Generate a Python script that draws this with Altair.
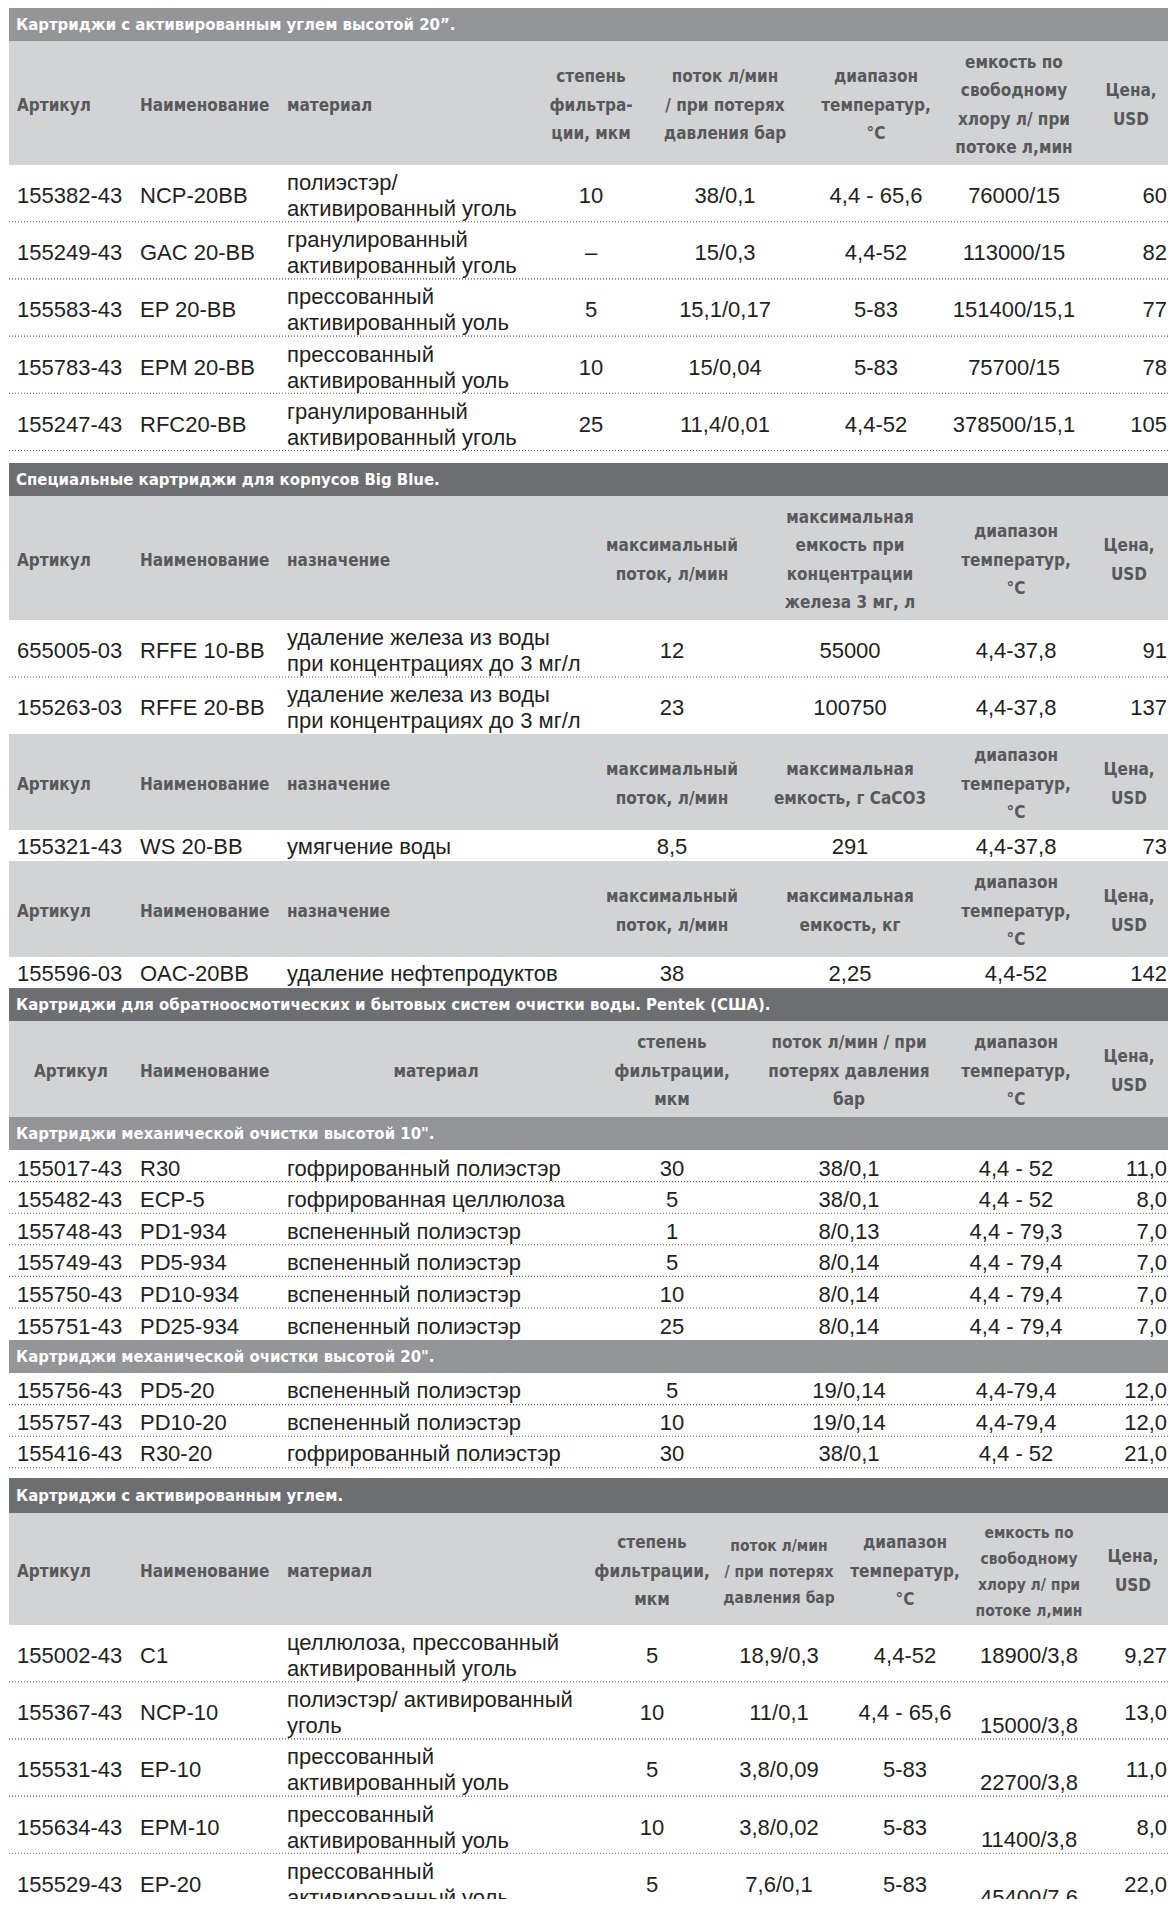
import altair as alt
import pandas as pd

# ------------------------------------------------------------------ data
S1_TITLE = "Картриджи с активированным углем высотой 20”."
S1_HEAD = ["Артикул", "Наименование", "материал",
           ["степень", "фильтра-", "ции, мкм"],
           ["поток л/мин", "/ при потерях", "давления бар"],
           ["диапазон", "температур,", "°C"],
           ["емкость по", "свободному", "хлору л/ при", "потоке л,мин"],
           ["Цена,", "USD"]]
S1_ART = ["155382-43", "155249-43", "155583-43", "155783-43", "155247-43"]
S1_NAME = ["NCP-20BB", "GAC 20-BB", "EP 20-BB", "EPM 20-BB", "RFC20-BB"]
S1_MAT = [["полиэстэр/", "активированный уголь"],
          ["гранулированный", "активированный уголь"],
          ["прессованный", "активированный уоль"],
          ["прессованный", "активированный уоль"],
          ["гранулированный", "активированный уголь"]]
S1_FILT = ["10", "–", "5", "10", "25"]
S1_FLOW = ["38/0,1", "15/0,3", "15,1/0,17", "15/0,04", "11,4/0,01"]
S1_TEMP = ["4,4 - 65,6", "4,4-52", "5-83", "5-83", "4,4-52"]
S1_CAP = ["76000/15", "113000/15", "151400/15,1", "75700/15", "378500/15,1"]
S1_PRICE = ["60", "82", "77", "78", "105"]

S2_TITLE = "Специальные картриджи для корпусов Big Blue."
S2_HEAD = ["Артикул", "Наименование", "назначение",
           ["максимальный", "поток, л/мин"],
           ["максимальная", "емкость при", "концентрации", "железа 3 мг, л"],
           ["диапазон", "температур,", "°C"],
           ["Цена,", "USD"]]
S2_ART = ["655005-03", "155263-03"]
S2_NAME = ["RFFE 10-BB", "RFFE 20-BB"]
S2_MAT = [["удаление железа из воды", "при концентрациях до 3 мг/л"],
          ["удаление железа из воды", "при концентрациях до 3 мг/л"]]
S2_FLOW = ["12", "23"]
S2_CAP = ["55000", "100750"]
S2_TEMP = ["4,4-37,8", "4,4-37,8"]
S2_PRICE = ["91", "137"]

S2B_HEAD = ["Артикул", "Наименование", "назначение",
            ["максимальный", "поток, л/мин"],
            ["максимальная", "емкость, г CaCO3"],
            ["диапазон", "температур,", "°C"],
            ["Цена,", "USD"]]
S2B_ROW = ["155321-43", "WS 20-BB", "умягчение воды", "8,5", "291", "4,4-37,8", "73"]

S2C_HEAD = ["Артикул", "Наименование", "назначение",
            ["максимальный", "поток, л/мин"],
            ["максимальная", "емкость, кг"],
            ["диапазон", "температур,", "°C"],
            ["Цена,", "USD"]]
S2C_ROW = ["155596-03", "OAC-20BB", "удаление нефтепродуктов", "38", "2,25", "4,4-52", "142"]

S3_TITLE = "Картриджи  для обратноосмотических и бытовых систем очистки воды. Pentek (США)."
S3_HEAD = ["Артикул", "Наименование", "материал",
           ["степень", "фильтрации,", "мкм"],
           ["поток л/мин / при", "потерях давления", "бар"],
           ["диапазон", "температур,", "°C"],
           ["Цена,", "USD"]]
S3A_TITLE = "Картриджи механической очистки высотой 10\"."
S3A_ART = ["155017-43", "155482-43", "155748-43", "155749-43", "155750-43", "155751-43"]
S3A_NAME = ["R30", "ECP-5", "PD1-934", "PD5-934", "PD10-934", "PD25-934"]
S3A_MAT = ["гофрированный полиэстэр", "гофрированная целлюлоза", "вспененный полиэстэр",
           "вспененный полиэстэр", "вспененный полиэстэр", "вспененный полиэстэр"]
S3A_FILT = ["30", "5", "1", "5", "10", "25"]
S3A_FLOW = ["38/0,1", "38/0,1", "8/0,13", "8/0,14", "8/0,14", "8/0,14"]
S3A_TEMP = ["4,4 - 52", "4,4 - 52", "4,4 - 79,3", "4,4 - 79,4", "4,4 - 79,4", "4,4 - 79,4"]
S3A_PRICE = ["11,0", "8,0", "7,0", "7,0", "7,0", "7,0"]

S3B_TITLE = "Картриджи механической очистки высотой 20\"."
S3B_ART = ["155756-43", "155757-43", "155416-43"]
S3B_NAME = ["PD5-20", "PD10-20", "R30-20"]
S3B_MAT = ["вспененный полиэстэр", "вспененный полиэстэр", "гофрированный полиэстэр"]
S3B_FILT = ["5", "10", "30"]
S3B_FLOW = ["19/0,14", "19/0,14", "38/0,1"]
S3B_TEMP = ["4,4-79,4", "4,4-79,4", "4,4 - 52"]
S3B_PRICE = ["12,0", "12,0", "21,0"]

S4_TITLE = "Картриджи с активированным углем."
S4_HEAD = ["Артикул", "Наименование", "материал",
           ["степень", "фильтрации,", "мкм"],
           ["поток л/мин", "/ при потерях", "давления бар"],
           ["диапазон", "температур,", "°C"],
           ["емкость по", "свободному", "хлору л/ при", "потоке л,мин"],
           ["Цена,", "USD"]]
S4_ART = ["155002-43", "155367-43", "155531-43", "155634-43", "155529-43"]
S4_NAME = ["C1", "NCP-10", "EP-10", "EPM-10", "EP-20"]
S4_MAT = [["целлюлоза, прессованный", "активированный уголь"],
          ["полиэстэр/ активированный", "уголь"],
          ["прессованный", "активированный уоль"],
          ["прессованный", "активированный уоль"],
          ["прессованный", "активированный уоль"]]
S4_FILT = ["5", "10", "5", "10", "5"]
S4_FLOW = ["18,9/0,3", "11/0,1", "3,8/0,09", "3,8/0,02", "7,6/0,1"]
S4_TEMP = ["4,4-52", "4,4 - 65,6", "5-83", "5-83", "5-83"]
S4_CAP = ["18900/3,8", "15000/3,8", "22700/3,8", "11400/3,8", "45400/7,6"]
S4_PRICE = ["9,27", "13,0", "11,0", "8,0", "22,0"]

# ------------------------------------------------------------------ layout
W, H = 1160, 1891          # page is 1176 wide with an 8px margin each side
X0, X1 = 9, 8 + W
X_ART, X_NAME, X_MAT, X_PR = 17, 140, 287, 1167
DARK, MID, LIGHT = "#6d6e71", "#939598", "#d1d3d4"
BODY_FONT = "Liberation Sans, Arial, Helvetica, sans-serif"
HEAD_FONT = "DejaVu Sans Condensed, DejaVu Sans, sans-serif"
HEAD_SIZE, HEAD_SMALL, TITLE_SIZE = 17, 15.5, 16.6

texts = []   # x, y, t, k
bars = []    # x, x2, y, y2, fill
rules = []   # x, x2, y


def add(k, x, y, t):
    texts.append(dict(x=x, y=y, t=t, k=k))


def bar(y0, y1, fill, title=None):
    bars.append(dict(x=X0, x2=X1, y=y0, y2=y1, fill=fill))
    if title:
        add("tt", 16, (y0 + y1) / 2 + 0.5, title)


def header(labels, spec, y0, y1):
    bar(y0, y1, LIGHT)
    cy = (y0 + y1) / 2 + 2.5
    for lab, (k, x) in zip(labels, spec):
        lines = lab if isinstance(lab, list) else [lab]
        lh = 26 if k == "hs" else 28.5
        n = len(lines)
        for i, ln in enumerate(lines):
            add(k, x, cy + (i - (n - 1) / 2) * lh, ln)


def dots(y):
    rules.append(dict(x=X0, x2=X1, y=y))


def row(cy, art, name, mat, cols, shifts=None):
    add("bl", X_ART, cy + 1, art)
    add("bl", X_NAME, cy + 1, name)
    if isinstance(mat, list):
        add("bl", X_MAT, cy - 12, mat[0])
        add("bl", X_MAT, cy + 14, mat[1])
    else:
        add("bl", X_MAT, cy + 1, mat)
    for j, (v, x, k) in enumerate(cols):
        dy = shifts[j] if shifts else 0
        add(k, x, cy + 1 + dy, v)


# section 1
bar(7, 41, MID, S1_TITLE)
header(S1_HEAD, [("hl", X_ART), ("hl", X_NAME), ("hl", X_MAT), ("hc", 591), ("hc", 725),
                 ("hc", 876), ("hc", 1014), ("hc", 1131)], 41, 165)
for i in range(5):
    row(165 + 30 + 57.2 * i, S1_ART[i], S1_NAME[i], S1_MAT[i],
        [(S1_FILT[i], 591, "bc"), (S1_FLOW[i], 725, "bc"), (S1_TEMP[i], 876, "bc"),
         (S1_CAP[i], 1014, "bc"), (S1_PRICE[i], X_PR, "br")])
    dots(165 + 57.2 * (i + 1) - 0.5)

# section 2
S2_SPEC = [("hl", X_ART), ("hl", X_NAME), ("hl", X_MAT), ("hc", 672), ("hc", 850),
           ("hc", 1016), ("hc", 1129)]
bar(463, 496, DARK, S2_TITLE)
header(S2_HEAD, S2_SPEC, 496, 620)
for i in range(2):
    row(620 + 29.5 + 57 * i, S2_ART[i], S2_NAME[i], S2_MAT[i],
        [(S2_FLOW[i], 672, "bc"), (S2_CAP[i], 850, "bc"), (S2_TEMP[i], 1016, "bc"),
         (S2_PRICE[i], X_PR, "br")])
dots(677)
header(S2B_HEAD, S2_SPEC, 734, 830)
row(846, S2B_ROW[0], S2B_ROW[1], S2B_ROW[2],
    [(S2B_ROW[3], 672, "bc"), (S2B_ROW[4], 850, "bc"), (S2B_ROW[5], 1016, "bc"),
     (S2B_ROW[6], X_PR, "br")])
header(S2C_HEAD, S2_SPEC, 861, 957)
row(973, S2C_ROW[0], S2C_ROW[1], S2C_ROW[2],
    [(S2C_ROW[3], 672, "bc"), (S2C_ROW[4], 850, "bc"), (S2C_ROW[5], 1016, "bc"),
     (S2C_ROW[6], X_PR, "br")])

# section 3
bar(988, 1021, DARK, S3_TITLE)
header(S3_HEAD, [("hc", 71), ("hl", X_NAME), ("hc", 436), ("hc", 672), ("hc", 849),
                 ("hc", 1016), ("hc", 1129)], 1021, 1117)
bar(1117, 1150, MID, S3A_TITLE)
for i in range(6):
    row(1150 + 17.5 + 31.6 * i, S3A_ART[i], S3A_NAME[i], S3A_MAT[i],
        [(S3A_FILT[i], 672, "bc"), (S3A_FLOW[i], 849, "bc"), (S3A_TEMP[i], 1016, "bc"),
         (S3A_PRICE[i], X_PR, "br")])
    if i < 5:
        dots(1150 + 31.6 * (i + 1))
bar(1340, 1373, MID, S3B_TITLE)
for i in range(3):
    row(1373 + 17 + 31.6 * i, S3B_ART[i], S3B_NAME[i], S3B_MAT[i],
        [(S3B_FILT[i], 672, "bc"), (S3B_FLOW[i], 849, "bc"), (S3B_TEMP[i], 1016, "bc"),
         (S3B_PRICE[i], X_PR, "br")])
    dots(1373 + 31.6 * (i + 1))

# section 4
bar(1478, 1513, DARK, S4_TITLE)
header(S4_HEAD, [("hl", X_ART), ("hl", X_NAME), ("hl", X_MAT), ("hc", 652), ("hs", 779),
                 ("hc", 905), ("hs", 1029), ("hc", 1133)], 1513, 1625)
CAP_SHIFT = [0, 12.7, 12.7, 12.7, 12.7]
for i in range(5):
    row(1625 + 30 + 57.2 * i, S4_ART[i], S4_NAME[i], S4_MAT[i],
        [(S4_FILT[i], 652, "bc"), (S4_FLOW[i], 779, "bc"), (S4_TEMP[i], 905, "bc"),
         (S4_CAP[i], 1029, "bc"), (S4_PRICE[i], X_PR, "br")],
        shifts=[0, 0, 0, CAP_SHIFT[i], 0])
    if i < 4:
        dots(1625 + 57.2 * (i + 1) - 0.5)

# ------------------------------------------------------------------ chart
xs = alt.Scale(domain=[8, 8 + W], range=[0, W], zero=False, nice=False, padding=0)
ys = alt.Scale(domain=[8, 8 + H], range=[0, H], zero=False, nice=False, padding=0)
tdf = pd.DataFrame(texts)

rect_layer = alt.Chart(pd.DataFrame(bars)).mark_rect().encode(
    x=alt.X("x:Q", scale=xs, axis=None), x2="x2:Q",
    y=alt.Y("y:Q", scale=ys, axis=None), y2="y2:Q",
    color=alt.Color("fill:N", scale=None))

rule_layer = alt.Chart(pd.DataFrame(rules)).mark_rule(
    color="#58595b", strokeWidth=1.1, strokeDash=[1, 2]).encode(
    x=alt.X("x:Q", scale=xs, axis=None), x2="x2:Q",
    y=alt.Y("y:Q", scale=ys, axis=None))

STYLES = {
    "bl": dict(align="left", font=BODY_FONT, fontSize=22, fontWeight="normal", color="#231f20"),
    "bc": dict(align="center", font=BODY_FONT, fontSize=22, fontWeight="normal", color="#231f20"),
    "br": dict(align="right", font=BODY_FONT, fontSize=22, fontWeight="normal", color="#231f20"),
    "hl": dict(align="left", font=HEAD_FONT, fontSize=HEAD_SIZE, fontWeight="bold", color="#58595b"),
    "hc": dict(align="center", font=HEAD_FONT, fontSize=HEAD_SIZE, fontWeight="bold", color="#58595b"),
    "hs": dict(align="center", font=HEAD_FONT, fontSize=HEAD_SMALL, fontWeight="bold", color="#58595b"),
    "tt": dict(align="left", font=HEAD_FONT, fontSize=TITLE_SIZE, fontWeight="bold", color="#ffffff"),
}

text_layers = []
for k, st in STYLES.items():
    sub = tdf[tdf.k == k]
    text_layers.append(
        alt.Chart(sub).mark_text(baseline="middle", **st).encode(
            x=alt.X("x:Q", scale=xs, axis=None),
            y=alt.Y("y:Q", scale=ys, axis=None),
            text="t:N"))

chart = alt.layer(rect_layer, rule_layer, *text_layers).properties(
    width=W, height=H, padding=0,
    autosize=alt.AutoSizeParams(type="none"),
).configure_view(stroke=None)

chart.save("out.html", embed_options={"renderer": "svg", "actions": False})
